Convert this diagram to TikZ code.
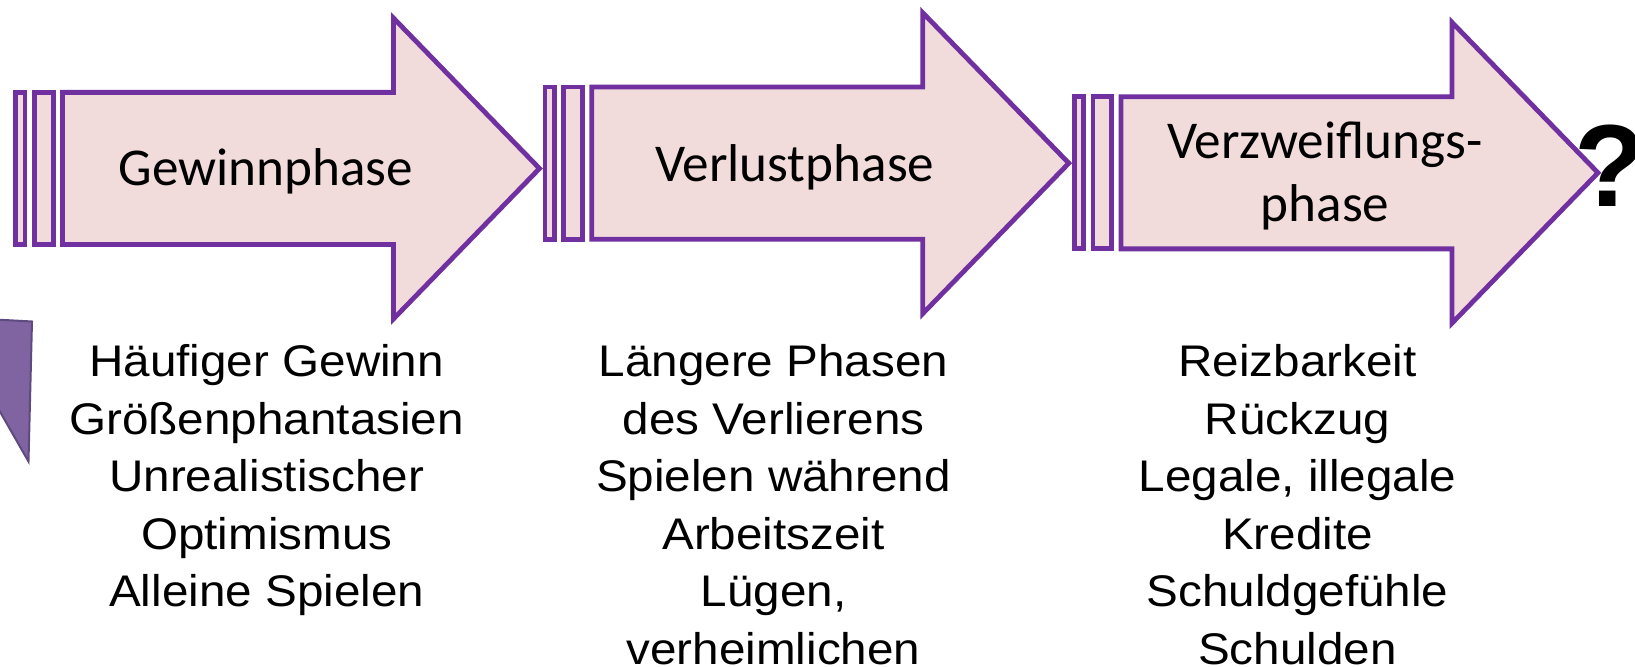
\documentclass[tikz,border=0pt]{standalone}
\usepackage{fontspec}
\setmainfont{Liberation Sans}
\newfontfamily\widesans[FakeStretch=1.075]{Liberation Sans}
\newfontfamily\calib{Carlito}
\definecolor{arrowline}{HTML}{7030A0}
\definecolor{arrowfill}{HTML}{F2DCDB}
\definecolor{sidefill}{HTML}{8064A2}
\definecolor{sideline}{HTML}{5F4A7F}
\tikzset{
  phase/.style={draw=arrowline, fill=arrowfill, line width=2.4pt, line join=miter},
  sideshape/.style={draw=sideline, fill=sidefill, line width=1pt, line join=miter},
  lbl/.style={font=\calib\fontsize{26.6}{31.7}\selectfont, inner sep=0pt, align=center, anchor=base},
  desc/.style={font=\widesans\fontsize{22.15}{28.75}\selectfont, inner sep=0pt, align=center, anchor=base},
  qmark/.style={font=\bfseries\fontsize{58.4}{60}\selectfont, inner sep=0pt, anchor=base},
  pics/phasearrow/.style={code={
    \draw[phase] (15.7,-76.1) rectangle (25,76.1);
    \draw[phase] (34.4,-76.1) rectangle (53.3,76.1);
    \draw[phase] (62.4,-76.1) -- (393.4,-76.1) -- (393.4,-150.5) -- (539.5,0)
      -- (393.4,150.5) -- (393.4,76.1) -- (62.4,76.1) -- cycle;
  }}
}
\begin{document}
\begin{tikzpicture}[x=0.5pt,y=-0.5pt]
\useasboundingbox (0,0) rectangle (1635,667);
\clip (0,0) rectangle (1635,667);
\fill[white] (0,0) rectangle (1635,667);
% side shape
\draw[sideshape] (-5,319.5) -- (32,321.5) -- (28.5,461.5) -- (-5,403) -- cycle;
% arrows
\pic at (0,168.5) {phasearrow};
\pic at (529.3,163.2) {phasearrow};
\pic at (1058.5,172.8) {phasearrow};
% arrow labels (base = last line)
\node[lbl] (g) at (266,185.7) {Gewinnphase};
\node[lbl] (v) at (794.7,181.7) {Verlustphase};
\node[lbl] (z) at (1325,221.7) {Verzweiflungs-\\phase};
\node[qmark] (q) at (1610.5,206.7) {?};
% descriptions (base = last line)
\node[desc] (d1) at (266.7,606.7) {Häufiger Gewinn\\Größenphantasien\\Unrealistischer\\Optimismus\\Alleine Spielen};
\node[desc] (d2) at (773.5,664.2) {Längere Phasen\\des Verlierens\\Spielen während\\Arbeitszeit\\Lügen,\\verheimlichen};
\node[desc] (d3) at (1297.5,664.2) {Reizbarkeit\\Rückzug\\Legale, illegale\\Kredite\\Schuldgefühle\\Schulden};
\end{tikzpicture}
\end{document}
